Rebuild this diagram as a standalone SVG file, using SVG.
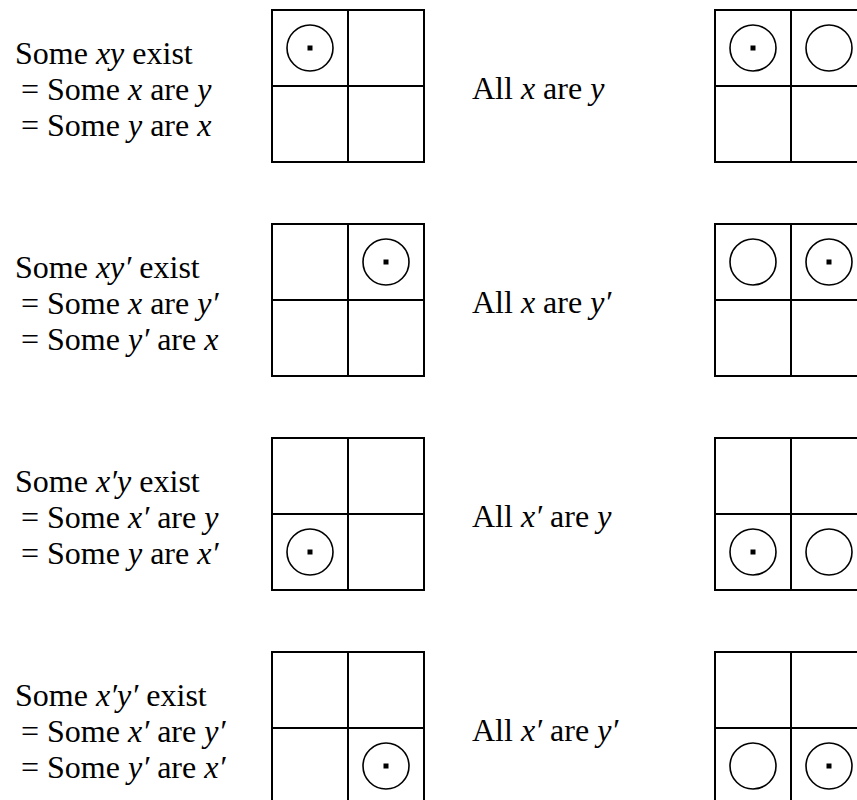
<svg xmlns="http://www.w3.org/2000/svg" width="857" height="800" viewBox="0 0 857 800">
<style>
.t{font-family:'Liberation Serif','Times New Roman',serif;font-size:32px;fill:#000}
.i{font-style:italic}
.g{fill:none;stroke:#000;stroke-width:2}
.c{fill:none;stroke:#000;stroke-width:1.6}
.d{fill:#000}
</style>
<defs>
<g id="grid">
<rect class="g" x="0" y="0" width="152" height="152"/>
<line class="g" x1="76" y1="0" x2="76" y2="152"/>
<line class="g" x1="0" y1="76" x2="152" y2="76"/>
</g>
<circle id="ring" class="c" r="23"/>
<g id="dotring"><circle class="c" r="23"/><rect class="d" x="-2.5" y="-2.5" width="5" height="5"/></g>
</defs>
<rect width="857" height="800" fill="#fff"/>

<g id="row1" transform="translate(0,10)">
<g id="text1"><text class="t" x="15" y="54">Some <tspan class="i">xy</tspan> exist</text>
<text class="t" x="21" y="90">= Some <tspan class="i">x</tspan> are <tspan class="i">y</tspan></text>
<text class="t" x="21" y="126">= Some <tspan class="i">y</tspan> are <tspan class="i">x</tspan></text></g>
<g id="grid1L" transform="translate(272,0)"><use href="#grid"/><use href="#dotring" x="38" y="38"/></g>
<g id="label1"><text class="t" x="472" y="89">All <tspan class="i">x</tspan> are <tspan class="i">y</tspan></text></g>
<g id="grid1R" transform="translate(715,0)"><use href="#grid"/><use href="#dotring" x="38" y="38"/><use href="#ring" x="114" y="38"/></g>
</g>

<g id="row2" transform="translate(0,224)">
<g id="text2"><text class="t" x="15" y="54">Some <tspan class="i">xy′</tspan> exist</text>
<text class="t" x="21" y="90">= Some <tspan class="i">x</tspan> are <tspan class="i">y′</tspan></text>
<text class="t" x="21" y="126">= Some <tspan class="i">y′</tspan> are <tspan class="i">x</tspan></text></g>
<g id="grid2L" transform="translate(272,0)"><use href="#grid"/><use href="#dotring" x="114" y="38"/></g>
<g id="label2"><text class="t" x="472" y="89">All <tspan class="i">x</tspan> are <tspan class="i">y′</tspan></text></g>
<g id="grid2R" transform="translate(715,0)"><use href="#grid"/><use href="#ring" x="38" y="38"/><use href="#dotring" x="114" y="38"/></g>
</g>

<g id="row3" transform="translate(0,438)">
<g id="text3"><text class="t" x="15" y="54">Some <tspan class="i">x′y</tspan> exist</text>
<text class="t" x="21" y="90">= Some <tspan class="i">x′</tspan> are <tspan class="i">y</tspan></text>
<text class="t" x="21" y="126">= Some <tspan class="i">y</tspan> are <tspan class="i">x′</tspan></text></g>
<g id="grid3L" transform="translate(272,0)"><use href="#grid"/><use href="#dotring" x="38" y="114"/></g>
<g id="label3"><text class="t" x="472" y="89">All <tspan class="i">x′</tspan> are <tspan class="i">y</tspan></text></g>
<g id="grid3R" transform="translate(715,0)"><use href="#grid"/><use href="#dotring" x="38" y="114"/><use href="#ring" x="114" y="114"/></g>
</g>

<g id="row4" transform="translate(0,652)">
<g id="text4"><text class="t" x="15" y="54">Some <tspan class="i">x′y′</tspan> exist</text>
<text class="t" x="21" y="90">= Some <tspan class="i">x′</tspan> are <tspan class="i">y′</tspan></text>
<text class="t" x="21" y="126">= Some <tspan class="i">y′</tspan> are <tspan class="i">x′</tspan></text></g>
<g id="grid4L" transform="translate(272,0)"><use href="#grid"/><use href="#dotring" x="114" y="114"/></g>
<g id="label4"><text class="t" x="472" y="89">All <tspan class="i">x′</tspan> are <tspan class="i">y′</tspan></text></g>
<g id="grid4R" transform="translate(715,0)"><use href="#grid"/><use href="#ring" x="38" y="114"/><use href="#dotring" x="114" y="114"/></g>
</g>
</svg>
